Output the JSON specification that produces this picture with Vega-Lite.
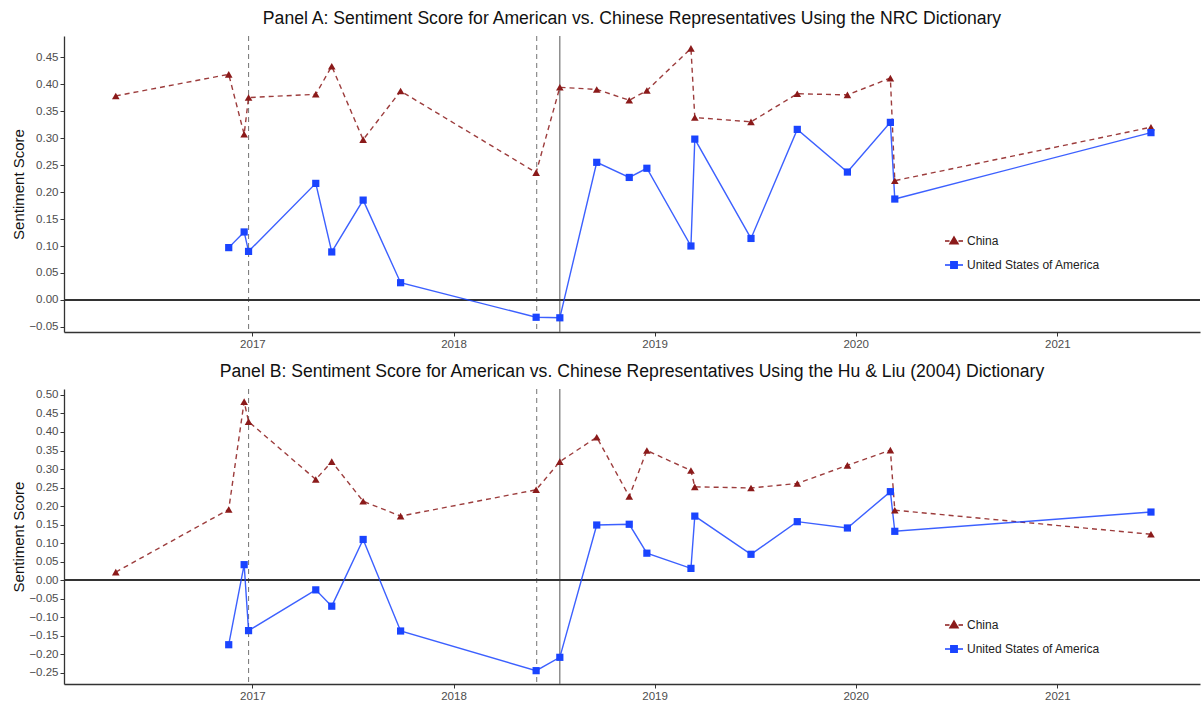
{
  "$schema": "https://vega.github.io/schema/vega-lite/v6.json",
  "padding": {"left": 11, "top": 9, "right": 1, "bottom": 2},
  "background": "white",
  "datasets": {
    "nrc": [
      {"date": "2016-04-28", "country": "China", "score": 0.378},
      {"date": "2016-11-19", "country": "China", "score": 0.418},
      {"date": "2016-12-17", "country": "China", "score": 0.307},
      {"date": "2016-12-25", "country": "China", "score": 0.375},
      {"date": "2017-04-26", "country": "China", "score": 0.381},
      {"date": "2017-05-25", "country": "China", "score": 0.433},
      {"date": "2017-07-21", "country": "China", "score": 0.297},
      {"date": "2017-09-27", "country": "China", "score": 0.387},
      {"date": "2018-05-31", "country": "China", "score": 0.236},
      {"date": "2018-07-13", "country": "China", "score": 0.394},
      {"date": "2018-09-18", "country": "China", "score": 0.390},
      {"date": "2018-11-16", "country": "China", "score": 0.370},
      {"date": "2018-12-18", "country": "China", "score": 0.388},
      {"date": "2019-03-08", "country": "China", "score": 0.466},
      {"date": "2019-03-15", "country": "China", "score": 0.338},
      {"date": "2019-06-25", "country": "China", "score": 0.330},
      {"date": "2019-09-17", "country": "China", "score": 0.382},
      {"date": "2019-12-17", "country": "China", "score": 0.380},
      {"date": "2020-03-04", "country": "China", "score": 0.411},
      {"date": "2020-03-12", "country": "China", "score": 0.221},
      {"date": "2021-06-20", "country": "China", "score": 0.320},
      {"date": "2016-11-19", "country": "United States of America", "score": 0.097},
      {"date": "2016-12-17", "country": "United States of America", "score": 0.126},
      {"date": "2016-12-25", "country": "United States of America", "score": 0.090},
      {"date": "2017-04-26", "country": "United States of America", "score": 0.216},
      {"date": "2017-05-25", "country": "United States of America", "score": 0.089},
      {"date": "2017-07-21", "country": "United States of America", "score": 0.185},
      {"date": "2017-09-27", "country": "United States of America", "score": 0.032},
      {"date": "2018-05-31", "country": "United States of America", "score": -0.032},
      {"date": "2018-07-13", "country": "United States of America", "score": -0.033},
      {"date": "2018-09-18", "country": "United States of America", "score": 0.255},
      {"date": "2018-11-16", "country": "United States of America", "score": 0.227},
      {"date": "2018-12-18", "country": "United States of America", "score": 0.244},
      {"date": "2019-03-08", "country": "United States of America", "score": 0.100},
      {"date": "2019-03-15", "country": "United States of America", "score": 0.298},
      {"date": "2019-06-25", "country": "United States of America", "score": 0.114},
      {"date": "2019-09-17", "country": "United States of America", "score": 0.316},
      {"date": "2019-12-17", "country": "United States of America", "score": 0.237},
      {"date": "2020-03-04", "country": "United States of America", "score": 0.329},
      {"date": "2020-03-12", "country": "United States of America", "score": 0.187},
      {"date": "2021-06-20", "country": "United States of America", "score": 0.310}
    ],
    "huliu": [
      {"date": "2016-04-28", "country": "China", "score": 0.022},
      {"date": "2016-11-19", "country": "China", "score": 0.191},
      {"date": "2016-12-17", "country": "China", "score": 0.482},
      {"date": "2016-12-25", "country": "China", "score": 0.428},
      {"date": "2017-04-26", "country": "China", "score": 0.272},
      {"date": "2017-05-25", "country": "China", "score": 0.320},
      {"date": "2017-07-21", "country": "China", "score": 0.213},
      {"date": "2017-09-27", "country": "China", "score": 0.173},
      {"date": "2018-05-31", "country": "China", "score": 0.244},
      {"date": "2018-07-13", "country": "China", "score": 0.320},
      {"date": "2018-09-18", "country": "China", "score": 0.386},
      {"date": "2018-11-16", "country": "China", "score": 0.226},
      {"date": "2018-12-18", "country": "China", "score": 0.350},
      {"date": "2019-03-08", "country": "China", "score": 0.296},
      {"date": "2019-03-15", "country": "China", "score": 0.252},
      {"date": "2019-06-25", "country": "China", "score": 0.249},
      {"date": "2019-09-17", "country": "China", "score": 0.261},
      {"date": "2019-12-17", "country": "China", "score": 0.310},
      {"date": "2020-03-04", "country": "China", "score": 0.351},
      {"date": "2020-03-12", "country": "China", "score": 0.189},
      {"date": "2021-06-20", "country": "China", "score": 0.124},
      {"date": "2016-11-19", "country": "United States of America", "score": -0.174},
      {"date": "2016-12-17", "country": "United States of America", "score": 0.042},
      {"date": "2016-12-25", "country": "United States of America", "score": -0.136},
      {"date": "2017-04-26", "country": "United States of America", "score": -0.026},
      {"date": "2017-05-25", "country": "United States of America", "score": -0.070},
      {"date": "2017-07-21", "country": "United States of America", "score": 0.110},
      {"date": "2017-09-27", "country": "United States of America", "score": -0.137},
      {"date": "2018-05-31", "country": "United States of America", "score": -0.244},
      {"date": "2018-07-13", "country": "United States of America", "score": -0.208},
      {"date": "2018-09-18", "country": "United States of America", "score": 0.149},
      {"date": "2018-11-16", "country": "United States of America", "score": 0.151},
      {"date": "2018-12-18", "country": "United States of America", "score": 0.073},
      {"date": "2019-03-08", "country": "United States of America", "score": 0.032},
      {"date": "2019-03-15", "country": "United States of America", "score": 0.173},
      {"date": "2019-06-25", "country": "United States of America", "score": 0.070},
      {"date": "2019-09-17", "country": "United States of America", "score": 0.158},
      {"date": "2019-12-17", "country": "United States of America", "score": 0.141},
      {"date": "2020-03-04", "country": "United States of America", "score": 0.239},
      {"date": "2020-03-12", "country": "United States of America", "score": 0.132},
      {"date": "2021-06-20", "country": "United States of America", "score": 0.184}
    ],
    "dashedEvents": [
      {"date": "2016-12-25"},
      {"date": "2018-06-01"}
    ],
    "solidEvents": [
      {"date": "2018-07-13"}
    ]
  },
  "vconcat": [
    {
      "width": 1136,
      "height": 296,
      "title": {"text": "Panel A: Sentiment Score for American vs. Chinese Representatives Using the NRC Dictionary", "frame": "group", "anchor": "middle", "offset": 8},
      "encoding": {
        "x": {
          "field": "date", "type": "temporal",
          "scale": {"domain": ["2016-01-25", "2021-09-17"]},
          "axis": {"title": null, "format": "%Y", "tickCount": {"interval": "year", "step": 1}}
        },
        "y": {"field": "score", "type": "quantitative",
          "scale": {"domain": [-0.0593, 0.489], "nice": false, "zero": false},
          "axis": {"title": "Sentiment Score", "format": ".2f", "labelOverlap": false, "values": [-0.05, 0, 0.05, 0.1, 0.15, 0.2, 0.25, 0.3, 0.35, 0.4, 0.45]}}
      },
      "layer": [
        {
          "data": {"name": "dashedEvents"},
          "mark": {"type": "rule", "color": "#808080", "strokeWidth": 1.1, "strokeDash": [5, 4]},
          "encoding": {"y": null}
        },
        {
          "data": {"name": "solidEvents"},
          "mark": {"type": "rule", "color": "#666666", "strokeWidth": 1.1},
          "encoding": {"y": null}
        },
        {
          "data": {"name": "nrc"},
          "mark": {"type": "rule", "color": "#333333", "strokeWidth": 1.3},
          "encoding": {"x": null, "y": {"datum": 0, "type": "quantitative"}}
        },
        {
          "data": {"name": "nrc"},
          "transform": [{"filter": "datum.country === 'China'"}],
          "mark": {"type": "line", "strokeWidth": 1.4, "opacity": 0.85, "strokeDash": [5, 4]},
          "encoding": {
            "color": {"field": "country", "type": "nominal",
              "scale": {"domain": ["China", "United States of America"], "range": ["#8b1a1a", "#1a44ff"]},
              "legend": {"title": null, "orient": "none", "legendX": 880, "legendY": 195, "padding": 0, "rowPadding": 8, "symbolSize": 324, "labelFontSize": 12, "labelColor": "#222222", "labelFont": "Liberation Sans", "labelOffset": 3,
                "encoding": {"symbols": {
                  "shape": {"value": {"expr": "datum.value === 'China' ? 'M-1,0H-0.5M0.5,0H1M0,-0.45L0.45,0.3L-0.45,0.3Z' : 'M-1,0H1M-0.36,-0.36H0.36V0.36H-0.36Z'"}},
                  "fill": {"value": {"expr": "datum.value === 'China' ? '#8b1a1a' : '#1a44ff'"}},
                  "stroke": {"value": {"expr": "datum.value === 'China' ? '#8b1a1a' : '#1a44ff'"}},
                  "strokeWidth": {"value": 1.4},
                  "strokeDash": {"value": [1, 0]},
                  "opacity": {"value": 1}
                }}}}
          }
        },
        {
          "data": {"name": "nrc"},
          "transform": [{"filter": "datum.country !== 'China'"}],
          "mark": {"type": "line", "strokeWidth": 1.4, "opacity": 0.85},
          "encoding": {
            "color": {"field": "country", "type": "nominal",
              "scale": {"domain": ["China", "United States of America"], "range": ["#8b1a1a", "#1a44ff"]},
              "legend": {"title": null, "orient": "none", "legendX": 880, "legendY": 195, "padding": 0, "rowPadding": 8, "symbolSize": 324, "labelFontSize": 12, "labelColor": "#222222", "labelFont": "Liberation Sans", "labelOffset": 3,
                "encoding": {"symbols": {
                  "shape": {"value": {"expr": "datum.value === 'China' ? 'M-1,0H-0.5M0.5,0H1M0,-0.45L0.45,0.3L-0.45,0.3Z' : 'M-1,0H1M-0.36,-0.36H0.36V0.36H-0.36Z'"}},
                  "fill": {"value": {"expr": "datum.value === 'China' ? '#8b1a1a' : '#1a44ff'"}},
                  "stroke": {"value": {"expr": "datum.value === 'China' ? '#8b1a1a' : '#1a44ff'"}},
                  "strokeWidth": {"value": 1.4},
                  "strokeDash": {"value": [1, 0]},
                  "opacity": {"value": 1}
                }}}}
          }
        },
        {
          "data": {"name": "nrc"},
          "transform": [{"filter": "datum.country === 'China'"}],
          "mark": {"type": "point", "filled": true, "opacity": 1, "size": 58, "shape": "triangle-up", "color": "#8b1a1a"}
        },
        {
          "data": {"name": "nrc"},
          "transform": [{"filter": "datum.country !== 'China'"}],
          "mark": {"type": "point", "filled": true, "opacity": 1, "size": 52, "shape": "square", "color": "#1a44ff"}
        }
      ]
    },
    {
      "width": 1136,
      "height": 295,
      "title": {"text": "Panel B: Sentiment Score for American vs. Chinese Representatives Using the Hu & Liu (2004) Dictionary", "frame": "group", "anchor": "middle", "offset": 8},
      "encoding": {
        "x": {
          "field": "date", "type": "temporal",
          "scale": {"domain": ["2016-01-25", "2021-09-17"]},
          "axis": {"title": null, "format": "%Y", "tickCount": {"interval": "year", "step": 1}}
        },
        "y": {"field": "score", "type": "quantitative",
          "scale": {"domain": [-0.28, 0.516], "nice": false, "zero": false},
          "axis": {"title": "Sentiment Score", "format": ".2f", "labelOverlap": false, "values": [-0.25, -0.2, -0.15, -0.1, -0.05, 0, 0.05, 0.1, 0.15, 0.2, 0.25, 0.3, 0.35, 0.4, 0.45, 0.5]}}
      },
      "layer": [
        {
          "data": {"name": "dashedEvents"},
          "mark": {"type": "rule", "color": "#808080", "strokeWidth": 1.1, "strokeDash": [5, 4]},
          "encoding": {"y": null}
        },
        {
          "data": {"name": "solidEvents"},
          "mark": {"type": "rule", "color": "#666666", "strokeWidth": 1.1},
          "encoding": {"y": null}
        },
        {
          "data": {"name": "huliu"},
          "mark": {"type": "rule", "color": "#333333", "strokeWidth": 1.3},
          "encoding": {"x": null, "y": {"datum": 0, "type": "quantitative"}}
        },
        {
          "data": {"name": "huliu"},
          "transform": [{"filter": "datum.country === 'China'"}],
          "mark": {"type": "line", "strokeWidth": 1.4, "opacity": 0.85, "strokeDash": [5, 4]},
          "encoding": {
            "color": {"field": "country", "type": "nominal",
              "scale": {"domain": ["China", "United States of America"], "range": ["#8b1a1a", "#1a44ff"]},
              "legend": {"title": null, "orient": "none", "legendX": 880, "legendY": 226, "padding": 0, "rowPadding": 8, "symbolSize": 324, "labelFontSize": 12, "labelColor": "#222222", "labelFont": "Liberation Sans", "labelOffset": 3,
                "encoding": {"symbols": {
                  "shape": {"value": {"expr": "datum.value === 'China' ? 'M-1,0H-0.5M0.5,0H1M0,-0.45L0.45,0.3L-0.45,0.3Z' : 'M-1,0H1M-0.36,-0.36H0.36V0.36H-0.36Z'"}},
                  "fill": {"value": {"expr": "datum.value === 'China' ? '#8b1a1a' : '#1a44ff'"}},
                  "stroke": {"value": {"expr": "datum.value === 'China' ? '#8b1a1a' : '#1a44ff'"}},
                  "strokeWidth": {"value": 1.4},
                  "strokeDash": {"value": [1, 0]},
                  "opacity": {"value": 1}
                }}}}
          }
        },
        {
          "data": {"name": "huliu"},
          "transform": [{"filter": "datum.country !== 'China'"}],
          "mark": {"type": "line", "strokeWidth": 1.4, "opacity": 0.85},
          "encoding": {
            "color": {"field": "country", "type": "nominal",
              "scale": {"domain": ["China", "United States of America"], "range": ["#8b1a1a", "#1a44ff"]},
              "legend": {"title": null, "orient": "none", "legendX": 880, "legendY": 226, "padding": 0, "rowPadding": 8, "symbolSize": 324, "labelFontSize": 12, "labelColor": "#222222", "labelFont": "Liberation Sans", "labelOffset": 3,
                "encoding": {"symbols": {
                  "shape": {"value": {"expr": "datum.value === 'China' ? 'M-1,0H-0.5M0.5,0H1M0,-0.45L0.45,0.3L-0.45,0.3Z' : 'M-1,0H1M-0.36,-0.36H0.36V0.36H-0.36Z'"}},
                  "fill": {"value": {"expr": "datum.value === 'China' ? '#8b1a1a' : '#1a44ff'"}},
                  "stroke": {"value": {"expr": "datum.value === 'China' ? '#8b1a1a' : '#1a44ff'"}},
                  "strokeWidth": {"value": 1.4},
                  "strokeDash": {"value": [1, 0]},
                  "opacity": {"value": 1}
                }}}}
          }
        },
        {
          "data": {"name": "huliu"},
          "transform": [{"filter": "datum.country === 'China'"}],
          "mark": {"type": "point", "filled": true, "opacity": 1, "size": 58, "shape": "triangle-up", "color": "#8b1a1a"}
        },
        {
          "data": {"name": "huliu"},
          "transform": [{"filter": "datum.country !== 'China'"}],
          "mark": {"type": "point", "filled": true, "opacity": 1, "size": 52, "shape": "square", "color": "#1a44ff"}
        }
      ]
    }
  ],
  "spacing": 12,
  "resolve": {
    "scale": {"color": "independent", "y": "independent"},
    "legend": {"color": "independent"}
  },
  "config": {
    "font": "Liberation Sans",
    "view": {"stroke": null},
    "title": {"font": "Liberation Sans", "fontSize": 17.6, "fontWeight": "normal", "color": "#111111"},
    "axisY": {"labelOverlap": false},
    "axis": {
      "grid": false,
      "domainColor": "#333333",
      "domainWidth": 1.3,
      "tickColor": "#333333",
      "tickSize": 4,
      "tickWidth": 1,
      "labelColor": "#4d4d4d",
      "labelFont": "Liberation Sans",
      "labelFontSize": 11.5,
      "labelPadding": 2,
      "titleFont": "Liberation Sans",
      "titleFontSize": 15,
      "titleFontWeight": "normal",
      "titleColor": "#111111",
      "titlePadding": 2
    }
  }
}
